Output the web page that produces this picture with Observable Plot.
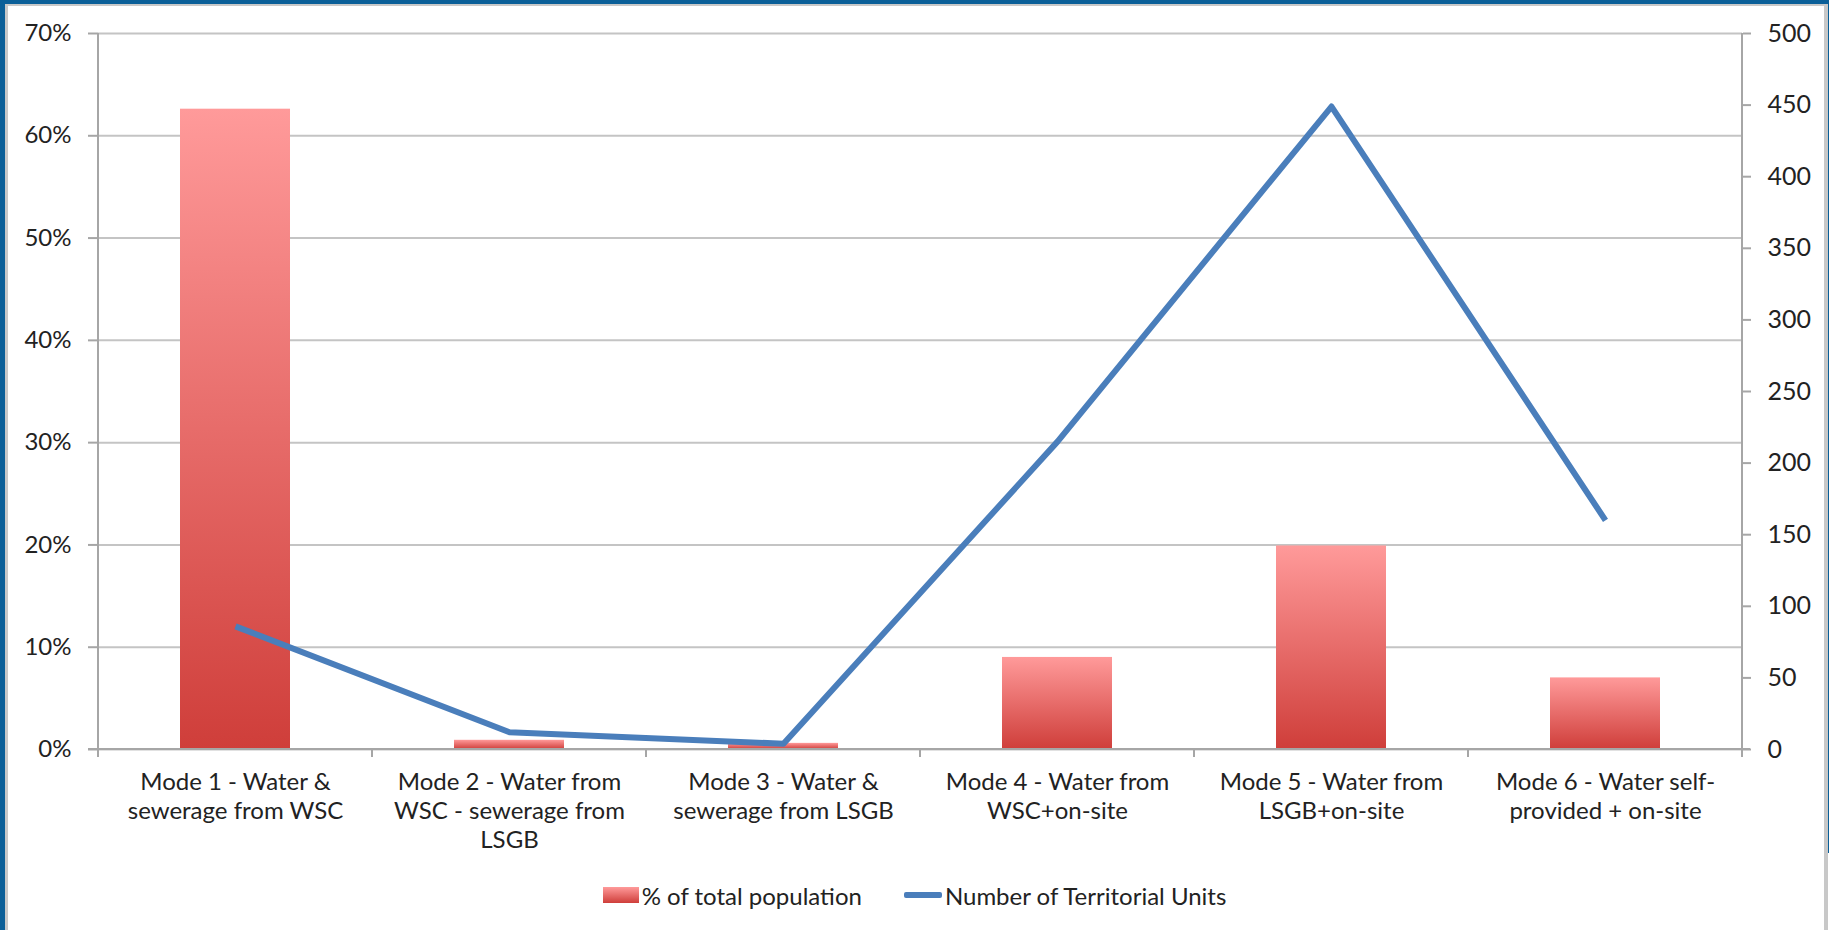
<!DOCTYPE html>
<html><head><meta charset="utf-8">
<script src="https://cdn.jsdelivr.net/npm/d3@7"></script>
<script src="https://cdn.jsdelivr.net/npm/@observablehq/plot@0.6"></script>
<style>
html,body{margin:0;padding:0;background:#fff;}
body{width:1829px;height:930px;overflow:hidden;position:relative;font-family:Lato,"Open Sans",sans-serif;color:#222;}
#chart{position:absolute;left:0;top:0;}
#legend{position:absolute;left:0;top:860px;width:1829px;height:70px;display:flex;align-items:center;justify-content:center;font-size:24px;padding-left:0;box-sizing:border-box;}
#legend .item{display:flex;align-items:center;}
#legend .sw-bar{width:36px;height:16px;background:linear-gradient(#ff9a9a,#cf3e3a);margin-right:3px;}
#legend .sw-line{width:38px;height:6px;background:#4a7ebb;margin-right:3px;border-radius:2px;}
.b{position:absolute;}
</style>
</head><body>
<div id="chart"></div>
<div id="legend"></div>
<div class="b" style="left:0;top:0;width:1829px;height:4px;background:#0b5f98"></div>
<div class="b" style="left:0;top:4px;width:1829px;height:2px;background:#c8c8c8"></div>
<div class="b" style="left:0;top:0;width:5px;height:930px;background:#0b5f98"></div>
<div class="b" style="left:5px;top:4px;width:3px;height:926px;background:#c8c8c8"></div>
<div class="b" style="left:1824px;top:4px;width:4px;height:926px;background:#c8c8c8"></div>
<div class="b" style="left:1828px;top:0;width:1px;height:853px;background:#0b5f98"></div>
<script>
const categories = [
  "Mode 1 - Water & sewerage from WSC",
  "Mode 2 - Water from WSC - sewerage from LSGB",
  "Mode 3 - Water & sewerage from LSGB",
  "Mode 4 - Water from WSC+on-site",
  "Mode 5 - Water from LSGB+on-site",
  "Mode 6 - Water self-provided + on-site"
];
const tickLabels = [
  "Mode 1 - Water &\nsewerage from WSC",
  "Mode 2 - Water from\nWSC - sewerage from\nLSGB",
  "Mode 3 - Water &\nsewerage from LSGB",
  "Mode 4 - Water from\nWSC+on-site",
  "Mode 5 - Water from\nLSGB+on-site",
  "Mode 6 - Water self-\nprovided + on-site"
];
const pctPopulation = [0.626, 0.009, 0.006, 0.090, 0.199, 0.070];
const territorialUnits = [86, 12, 4, 215, 449, 160];
const leftTicks = [0, 0.1, 0.2, 0.3, 0.4, 0.5, 0.6, 0.7];
const rightTicks = [0, 50, 100, 150, 200, 250, 300, 350, 400, 450, 500];
const seriesNames = ["% of total population", "Number of Territorial Units"];

const leftMax = 0.7, rightMax = 500;
const toLeft = v => v / rightMax * leftMax;
const rows = categories.map((c, i) => ({c, pct: pctPopulation[i], units: territorialUnits[i]}));

const W = 1829, H = 860;
const axisColor = "#a6a6a6";

const defs = () => {
  const d = d3.create("svg:defs");
  const lg = d.append("linearGradient").attr("id", "barGrad")
    .attr("x1", 0).attr("y1", 0).attr("x2", 0).attr("y2", 1);
  lg.append("stop").attr("offset", "0%").attr("stop-color", "#ff9a9a");
  lg.append("stop").attr("offset", "100%").attr("stop-color", "#cf3e3a");
  return d.node();
};

const axisLines = (index, scales, values, dims) => {
  const x = scales.x;
  const l = dims.marginLeft, r = dims.width - dims.marginRight;
  const t = dims.marginTop, b = dims.height - dims.marginBottom;
  const g = d3.create("svg:g").attr("stroke", axisColor).attr("stroke-width", 2).attr("fill", "none");
  g.append("line").attr("x1", l).attr("x2", l).attr("y1", t).attr("y2", b + 8);
  g.append("line").attr("x1", r).attr("x2", r).attr("y1", t).attr("y2", b + 8);
  g.append("line").attr("x1", l - 10).attr("x2", r + 8).attr("y1", b).attr("y2", b);
  const bw = x.bandwidth ? x.bandwidth() : 0;
  const step = x.step ? x.step() : (r - l) / categories.length;
  const bounds = categories.map(c => x(c) + bw / 2 - step / 2);
  bounds.push(x(categories[categories.length - 1]) + bw / 2 + step / 2);
  for (const bx of bounds) g.append("line").attr("x1", bx).attr("x2", bx).attr("y1", b).attr("y2", b + 8);
  return g.node();
};

const plot = Plot.plot({
  width: W, height: H,
  marginLeft: 98, marginRight: 87, marginTop: 33, marginBottom: H - 749,
  style: {fontFamily: "Lato, 'Open Sans', sans-serif", fontSize: "24px", color: "#222", background: "transparent", overflow: "visible"},
  x: {domain: categories, paddingInner: 0.6, paddingOuter: 0.3, align: 0.5, axis: null},
  y: {domain: [0, leftMax], axis: null},
  marks: [
    defs,
    Plot.gridY(leftTicks, {stroke: "#c4c4c4", strokeOpacity: 1, strokeWidth: 2}),
    Plot.barY(rows, {x: "c", y: "pct", fill: "url(#barGrad)"}),
    axisLines,
    Plot.axisY({ticks: leftTicks, tickFormat: d => Math.round(d * 100) + "%", tickSize: 10, tickPadding: 17,
      stroke: axisColor, strokeWidth: 2, strokeOpacity: 1, fill: "#222", fontSize: 24, label: null}),
    Plot.axisY({anchor: "right", ticks: rightTicks.map(toLeft), tickFormat: d => Math.round(d / leftMax * rightMax),
      tickSize: 8, tickPadding: 17, stroke: axisColor, strokeWidth: 2, strokeOpacity: 1, fill: "#222", fontSize: 25, label: null}),
    Plot.axisX({ticks: categories, tickFormat: d => tickLabels[categories.indexOf(d)], tickSize: 0, tickPadding: 20,
      lineHeight: 1.2, fill: "#222", fontSize: 24, label: null}),
    Plot.line(rows, {x: "c", y: d => toLeft(d.units), stroke: "#4a7ebb", strokeWidth: 6, strokeLinejoin: "round", strokeLinecap: "butt"})
  ]
});
document.getElementById("chart").appendChild(plot);

const legend = document.getElementById("legend");
legend.innerHTML =
  `<div class="item"><div class="sw-bar"></div><span>${seriesNames[0]}</span></div>` +
  `<div class="item" style="margin-left:42px"><div class="sw-line"></div><span>${seriesNames[1]}</span></div>`;
</script>
</body></html>
